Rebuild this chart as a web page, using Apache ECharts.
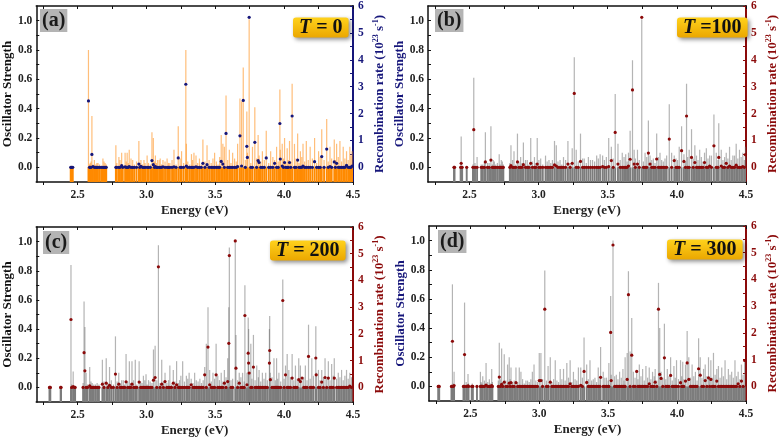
<!DOCTYPE html>
<html><head><meta charset="utf-8">
<script src="https://cdn.jsdelivr.net/npm/echarts@6/dist/echarts.min.js"></script>
<style>html,body{margin:0;padding:0;background:#fff}#c{width:780px;height:438px}</style>
</head><body><div id="c"></div>
<script>
// ---- Data: [energy (eV), oscillator strength, recombination rate (1e23 s^-1)] ----
const linesA = [
[2.450,0.005,0],[2.465,0.005,0],[2.579,0.80,2.47],[2.592,0.03,0],[2.604,0.35,0.48],[2.612,0.02,0.03],[2.622,0.05,0],[2.640,0.03,0],[2.660,0.02,0],[2.684,0.06,0],[2.700,0.03,0],
[2.778,0.15,0],[2.800,0.07,0],[2.820,0.10,0.06],[2.845,0.10,0.02],[2.860,0.10,0],[2.875,0.12,0.03],[2.900,0.05,0],[2.945,0.18,0.12],[2.960,0.05,0.04],[2.990,0.03,0],[3.005,0.08,0],
[3.040,0.24,0.25],[3.050,0.20,0.10],[3.065,0.08,0.03],[3.080,0.05,0],[3.100,0.06,0],[3.120,0.05,0.02],[3.150,0.06,0],[3.170,0.03,0],[3.200,0.12,0.02],[3.231,0.28,0.35],[3.255,0.11,0],
[3.286,0.80,3.09],[3.290,0.16,0.05],[3.327,0.09,0],[3.345,0.10,0],[3.360,0.08,0.02],[3.410,0.19,0.15],[3.440,0.15,0.10],[3.495,0.10,0],[3.543,0.22,0.22],[3.555,0.16,0.12],[3.566,0.14,0],
[3.578,0.49,1.26],[3.602,0.12,0],[3.626,0.10,0],[3.662,0.16,0.03],[3.679,0.47,1.17],[3.691,0.45,0.05],[3.703,0.68,2.49],[3.729,0.38,0.78],[3.733,0.10,0.37],[3.746,1.01,5.58],[3.770,0.14,0],
[3.787,0.41,0.93],[3.811,0.22,0.25],[3.818,0.08,0.18],[3.842,0.11,0],[3.870,0.25,0.35],[3.902,0.11,0],[3.931,0.05,0.15],[3.945,0.14,0],[3.969,0.53,1.63],[3.972,0.12,0.31],[3.986,0.16,0.05],
[4.003,0.20,0.18],[4.022,0.13,0],[4.039,0.18,0.18],[4.058,0.57,1.91],[4.075,0.16,0],[4.098,0.23,0.27],[4.118,0.11,0],[4.137,0.16,0.05],[4.161,0.18,0],[4.189,0.14,0],[4.221,0.20,0.21],
[4.250,0.11,0],[4.273,0.26,0.40],[4.309,0.33,0.68],[4.333,0.14,0.03],[4.364,0.19,0.20],[4.381,0.16,0.15],[4.405,0.18,0],[4.429,0.14,0],[4.453,0.11,0.07],[4.477,0.14,0],[4.493,0.11,0.05]
];
const linesB = [
[2.392,0.005,0],[2.440,0.21,0.15],[2.447,0.01,0],[2.480,0.005,0],[2.531,0.61,1.40],[2.555,0.07,0],[2.585,0.02,0],[2.615,0.24,0.20],[2.630,0.03,0],[2.655,0.28,0.27],[2.672,0.05,0],
[2.690,0.02,0],[2.715,0.09,0],[2.730,0.05,0],[2.745,0.02,0],[2.800,0.15,0.06],[2.822,0.11,0],[2.847,0.23,0.20],[2.870,0.07,0],[2.890,0.17,0.10],[2.918,0.05,0],[2.943,0.20,0.15],
[2.970,0.07,0],[2.990,0.20,0.12],[3.015,0.06,0],[3.050,0.08,0],[3.075,0.05,0],[3.115,0.18,0.09],[3.128,0.15,0.05],[3.155,0.05,0],[3.180,0.07,0],[3.212,0.18,0.12],[3.243,0.13,0.15],
[3.258,0.75,2.75],[3.272,0.12,0],[3.303,0.23,0.22],[3.330,0.06,0],[3.360,0.07,0],[3.390,0.05,0],[3.420,0.08,0],[3.445,0.09,0],[3.463,0.08,0.03],[3.490,0.07,0],[3.507,0.20,0.03],
[3.526,0.14,0.25],[3.554,0.50,1.30],[3.574,0.16,0.12],[3.605,0.10,0],[3.630,0.09,0],[3.650,0.10,0.05],[3.662,0.25,0.30],[3.679,0.73,2.88],[3.691,0.12,0.12],[3.715,0.12,0.12],
[3.746,1.01,5.58],[3.770,0.10,0],[3.794,0.32,0.53],[3.806,0.08,0.12],[3.854,0.23,0.31],[3.878,0.10,0],[3.914,0.06,0],[3.945,0.43,1.05],[3.962,0.10,0],[3.981,0.08,0.25],[4.017,0.14,0],
[4.034,0.28,0.62],[4.051,0.09,0.22],[4.070,0.57,1.91],[4.089,0.12,0],[4.106,0.26,0.37],[4.130,0.15,0.18],[4.165,0.12,0],[4.200,0.10,0.18],[4.213,0.13,0],[4.237,0.08,0.05],
[4.268,0.36,0.80],[4.285,0.10,0],[4.303,0.30,0.37],[4.321,0.12,0.05],[4.333,0.05,0],[4.357,0.10,0.15],[4.381,0.14,0.05],[4.405,0.08,0],[4.429,0.16,0.08],[4.453,0.12,0],[4.477,0.10,0.03],[4.496,0.14,0.47]
];
const linesC = [
[2.296,0.005,0],[2.302,0.005,0],[2.380,0.005,0],[2.452,0.84,2.54],[2.468,0.11,0.03],[2.482,0.005,0],[2.547,0.59,1.30],[2.553,0.415,0.62],[2.562,0.10,0],[2.588,0.14,0.06],[2.606,0.03,0],
[2.630,0.02,0],[2.680,0.19,0.12],[2.708,0.20,0.16],[2.732,0.14,0.08],[2.775,0.35,0.50],[2.799,0.10,0.12],[2.820,0.05,0],[2.852,0.23,0.21],[2.876,0.18,0],[2.895,0.18,0.12],[2.919,0.19,0],
[2.947,0.18,0.20],[2.978,0.08,0],[2.997,0.09,0],[3.015,0.05,0],[3.051,0.26,0.27],[3.063,0.285,0.37],[3.087,0.975,4.51],[3.111,0.19,0.12],[3.135,0.10,0.22],[3.170,0.15,0],
[3.195,0.12,0.16],[3.219,0.18,0.10],[3.250,0.08,0],[3.263,0.18,0],[3.290,0.08,0],[3.310,0.10,0],[3.325,0.06,0.10],[3.350,0.10,0],[3.423,0.14,0.47],[3.435,0.30,0],[3.447,0.55,1.51],
[3.459,0.12,0.10],[3.483,0.10,0],[3.506,0.30,0.47],[3.518,0.08,0],[3.543,0.10,0],[3.566,0.12,0.16],[3.590,0.20,0.22],[3.598,0.55,1.65],[3.602,0.96,4.93],[3.645,1.01,5.48],[3.650,0.36,0.72],
[3.674,0.10,0.16],[3.698,0.10,0],[3.715,0.70,2.69],[3.730,0.10,0.10],[3.739,0.48,1.28],[3.742,0.40,0.91],[3.746,0.10,0.54],[3.758,0.30,0],[3.777,0.36,0.76],[3.801,0.15,0],[3.818,0.12,0],
[3.842,0.10,0],[3.866,0.10,0],[3.893,0.40,0.91],[3.895,0.49,1.38],[3.900,0.10,0.29],[3.926,0.20,0],[3.945,0.20,0],[3.962,0.10,0],[3.990,0.74,3.25],[4.010,0.15,0.47],[4.022,0.23,0],
[4.034,0.12,0],[4.058,0.23,0.35],[4.082,0.15,0],[4.106,0.20,0.29],[4.118,0.15,0.22],[4.130,0.05,0.35],[4.154,0.15,0],[4.177,0.43,1.16],[4.201,0.20,0],[4.230,0.42,1.10],[4.233,0.10,0.47],
[4.249,0.12,0],[4.273,0.12,0.20],[4.297,0.20,0.37],[4.321,0.18,0.35],[4.345,0.16,0],[4.364,0.20,0.35],[4.393,0.10,0],[4.417,0.12,0],[4.453,0.12,0],[4.477,0.10,0.05]
];
const linesD = [
[2.267,0.005,0],[2.274,0.005,0],[2.363,0.005,0],[2.370,0.70,1.69],[2.382,0.10,0.03],[2.450,0.005,0],[2.458,0.575,1.19],[2.470,0.03,0],[2.483,0.085,0.02],[2.514,0.02,0],[2.548,0.01,0],
[2.573,0.10,0],[2.590,0.07,0],[2.614,0.16,0.05],[2.638,0.05,0],[2.655,0.12,0.03],[2.710,0.30,0.35],[2.727,0.26,0.08],[2.746,0.22,0.16],[2.770,0.15,0],[2.782,0.20,0.12],[2.795,0.13,0.14],
[2.831,0.13,0.14],[2.855,0.13,0],[2.867,0.10,0],[2.903,0.04,0],[2.950,0.10,0],[2.962,0.15,0],[3.000,0.23,0.22],[3.012,0.23,0.22],[3.040,0.795,2.89],[3.064,0.14,0],[3.080,0.20,0.16],
[3.116,0.18,0],[3.152,0.12,0],[3.176,0.12,0],[3.200,0.16,0],[3.224,0.18,0.10],[3.248,0.10,0],[3.284,0.13,0],[3.301,0.13,0.04],[3.325,0.335,0.56],[3.344,0.15,0.15],[3.368,0.18,0],
[3.392,0.05,0],[3.428,0.13,0],[3.445,0.27,0.34],[3.464,0.10,0],[3.488,0.06,0],[3.505,0.16,0],[3.518,0.62,2.02],[3.522,0.08,0.22],[3.535,1.00,5.29],[3.559,0.08,0],[3.583,0.10,0],
[3.607,0.12,0],[3.623,0.20,0],[3.638,0.23,0.26],[3.647,0.79,3.43],[3.659,0.24,0],[3.671,0.47,1.17],[3.683,0.10,0],[3.707,0.10,0.56],[3.726,0.15,0],[3.750,0.12,0],[3.774,0.14,0],
[3.798,0.13,0.10],[3.822,0.10,0],[3.841,0.12,0.16],[3.865,0.71,2.89],[3.874,0.40,0.45],[3.884,0.10,0.30],[3.908,0.43,1.07],[3.929,0.12,0],[3.953,0.20,0.41],[3.977,0.14,0],[3.996,0.18,0],
[4.025,0.18,0.14],[4.041,0.17,0],[4.061,0.15,0.20],[4.073,0.38,0.88],[4.085,0.20,0.26],[4.109,0.15,0],[4.133,0.10,0],[4.156,0.33,0.66],[4.168,0.20,0.42],[4.192,0.12,0],[4.204,0.15,0.22],
[4.228,0.20,0.32],[4.245,0.18,0.26],[4.264,0.23,0],[4.288,0.12,0.20],[4.300,0.14,0],[4.324,0.13,0],[4.348,0.18,0],[4.372,0.12,0],[4.396,0.10,0],[4.420,0.18,0],[4.443,0.10,0.10],[4.467,0.15,0.20],[4.490,0.17,0.97]
];
// weak transitions: [energy, oscillator strength]; their recombination rate reads as 0
const weakA = [[2.457,0.01],[2.587,0.02],[2.598,0.04],[2.632,0.02],[2.648,0.03],[2.672,0.01],[2.692,0.04],[2.708,0.02],[2.785,0.03],[2.808,0.05],[2.828,0.02],[2.853,0.04],[2.868,0.03],[2.888,0.06],[2.912,0.02],[2.928,0.04],[2.952,0.03],[2.972,0.02],[2.982,0.05],[3.015,0.03],[3.028,0.02],[3.058,0.04],[3.072,0.03],[3.092,0.05],[3.110,0.02],[3.135,0.04],[3.160,0.03],[3.186,0.05],[3.215,0.02],[3.245,0.06],[3.270,0.03],[3.300,0.04],[3.315,0.02],[3.335,0.05],[3.372,0.03],[3.385,0.06],[3.398,0.02],[3.425,0.04],[3.455,0.05],[3.470,0.03],[3.483,0.06],[3.508,0.04],[3.520,0.02],[3.532,0.07],[3.590,0.05],[3.614,0.03],[3.640,0.06],[3.652,0.04],[3.718,0.05],[3.758,0.03],[3.800,0.06],[3.830,0.04],[3.856,0.05],[3.888,0.03],[3.918,0.07],[3.957,0.04],[3.995,0.06],[4.012,0.03],[4.030,0.05],[4.048,0.04],[4.086,0.06],[4.108,0.03],[4.128,0.07],[4.149,0.04],[4.175,0.05],[4.205,0.06],[4.236,0.03],[4.262,0.07],[4.290,0.05],[4.320,0.04],[4.345,0.06],[4.372,0.05],[4.393,0.07],[4.417,0.04],[4.441,0.06],[4.465,0.05],[4.485,0.08]];
const weakB = [[2.388,0.01],[2.436,0.01],[2.525,0.02],[2.540,0.03],[2.596,0.02],[2.608,0.04],[2.642,0.03],[2.665,0.02],[2.680,0.04],[2.702,0.03],[2.722,0.02],[2.738,0.04],[2.792,0.03],[2.812,0.05],[2.835,0.02],[2.858,0.04],[2.880,0.03],[2.905,0.05],[2.930,0.02],[2.955,0.04],[2.980,0.03],[3.002,0.05],[3.030,0.02],[3.062,0.04],[3.088,0.03],[3.100,0.05],[3.140,0.04],[3.168,0.02],[3.195,0.05],[3.228,0.03],[3.287,0.04],[3.318,0.06],[3.345,0.03],[3.375,0.05],[3.405,0.04],[3.432,0.06],[3.476,0.05],[3.540,0.06],[3.590,0.05],[3.618,0.07],[3.640,0.04],[3.700,0.06],[3.728,0.05],[3.758,0.04],[3.782,0.07],[3.818,0.05],[3.830,0.06],[3.842,0.03],[3.866,0.07],[3.890,0.05],[3.902,0.04],[3.926,0.08],[3.994,0.06],[4.005,0.05],[4.062,0.04],[4.078,0.07],[4.118,0.06],[4.142,0.08],[4.153,0.05],[4.177,0.07],[4.189,0.04],[4.225,0.06],[4.250,0.08],[4.297,0.05],[4.345,0.07],[4.369,0.06],[4.393,0.05],[4.417,0.08],[4.441,0.06],[4.465,0.07],[4.488,0.05]];
const weakC = [[2.299,0.01],[2.377,0.01],[2.457,0.02],[2.478,0.01],[2.540,0.03],[2.572,0.02],[2.597,0.04],[2.618,0.02],[2.642,0.03],[2.655,0.02],[2.692,0.04],[2.720,0.03],[2.745,0.05],[2.760,0.02],[2.787,0.04],[2.810,0.03],[2.832,0.05],[2.842,0.02],[2.864,0.04],[2.886,0.03],[2.907,0.05],[2.930,0.02],[2.958,0.04],[2.968,0.03],[2.988,0.05],[3.005,0.02],[3.027,0.04],[3.040,0.03],[3.075,0.05],[3.099,0.03],[3.123,0.04],[3.148,0.03],[3.160,0.05],[3.182,0.02],[3.207,0.04],[3.232,0.03],[3.240,0.05],[3.276,0.04],[3.300,0.06],[3.338,0.03],[3.362,0.05],[3.375,0.04],[3.388,0.06],[3.400,0.03],[3.412,0.05],[3.471,0.04],[3.495,0.06],[3.530,0.05],[3.555,0.04],[3.578,0.07],[3.614,0.05],[3.626,0.06],[3.662,0.05],[3.686,0.07],[3.710,0.04],[3.766,0.06],[3.789,0.05],[3.813,0.07],[3.830,0.04],[3.854,0.06],[3.878,0.05],[3.912,0.07],[3.936,0.05],[3.953,0.06],[3.975,0.04],[4.000,0.06],[4.046,0.07],[4.070,0.05],[4.094,0.06],[4.142,0.07],[4.166,0.05],[4.189,0.06],[4.213,0.08],[4.261,0.05],[4.285,0.07],[4.309,0.06],[4.333,0.05],[4.357,0.08],[4.381,0.06],[4.405,0.07],[4.429,0.05],[4.441,0.08],[4.465,0.06],[4.489,0.07]];
const weakD = [[2.271,0.01],[2.367,0.01],[2.376,0.02],[2.454,0.01],[2.487,0.02],[2.510,0.01],[2.518,0.01],[2.578,0.03],[2.583,0.02],[2.602,0.04],[2.626,0.03],[2.645,0.02],[2.660,0.03],[2.703,0.04],[2.718,0.05],[2.735,0.03],[2.758,0.04],[2.789,0.05],[2.806,0.03],[2.818,0.04],[2.843,0.03],[2.879,0.05],[2.891,0.02],[2.915,0.04],[2.927,0.03],[2.939,0.05],[2.975,0.04],[2.987,0.03],[3.024,0.05],[3.052,0.04],[3.092,0.03],[3.104,0.05],[3.128,0.04],[3.140,0.03],[3.164,0.05],[3.188,0.04],[3.212,0.06],[3.236,0.03],[3.260,0.05],[3.272,0.04],[3.313,0.06],[3.356,0.05],[3.380,0.04],[3.404,0.06],[3.416,0.03],[3.440,0.05],[3.476,0.06],[3.500,0.04],[3.547,0.07],[3.571,0.05],[3.595,0.06],[3.615,0.04],[3.695,0.06],[3.716,0.05],[3.738,0.07],[3.762,0.04],[3.786,0.06],[3.810,0.05],[3.834,0.07],[3.853,0.04],[3.896,0.06],[3.918,0.05],[3.941,0.07],[3.965,0.04],[3.987,0.06],[4.010,0.05],[4.033,0.07],[4.049,0.05],[4.097,0.06],[4.121,0.07],[4.145,0.04],[4.180,0.06],[4.216,0.07],[4.236,0.05],[4.255,0.06],[4.276,0.08],[4.312,0.06],[4.336,0.07],[4.360,0.05],[4.384,0.08],[4.408,0.06],[4.431,0.07],[4.455,0.05],[4.479,0.08]];

// axis ticks / labels
const energyTicks = [2.25,2.5,2.75,3.0,3.25,3.5,3.75,4.0,4.25,4.5];
const energyLabels = [2.5,3.0,3.5,4.0,4.5];
const osTicks = [0,0.1,0.2,0.3,0.4,0.5,0.6,0.7,0.8,0.9,1.0];
const osLabels = [0,0.2,0.4,0.6,0.8,1.0];
const rateTicks = [0,0.5,1,1.5,2,2.5,3,3.5,4,4.5,5,5.5,6];
const rateLabels = [0,1,2,3,4,5,6];
const panelLabels = ['(a)','(b)','(c)','(d)'];
const tempTexts = ['{i|T} = 0','{i|T} =100','{i|T} = 200','{i|T} = 300'];

const E_MIN = 2.2, E_MAX = 4.5, OS_MIN = -0.1, OS_MAX = 1.1, R_MAX = 6;
const R_MIN = OS_MIN * R_MAX / OS_MAX;
const FONT = '"Liberation Serif","Times New Roman",serif';
const NAVY = '#16167a', DRED = '#8b0a0a';

const panels = [
  {lines:linesA, weak:weakA, grid:{left:33,top:5,width:320,height:177}, low:'#ff8a00', high:'rgba(255,150,40,0.62)', dot:NAVY, right:NAVY, leftName:'#111', lab:{left:40,top:9}, tb:{left:293,top:18}},
  {lines:linesB, weak:weakB, grid:{left:428,top:5,width:320,height:177}, low:'#7c7c7c', high:'rgba(105,105,105,0.5)', dot:DRED, right:DRED, leftName:NAVY, lab:{left:435,top:9}, tb:{left:677,top:18}},
  {lines:linesC, weak:weakC, grid:{left:33,top:227,width:320,height:175}, low:'#7c7c7c', high:'rgba(105,105,105,0.5)', dot:DRED, right:DRED, leftName:'#111', lab:{left:43,top:231}, tb:{left:270,top:241}},
  {lines:linesD, weak:weakD, grid:{left:429,top:226,width:320,height:175}, low:'#7c7c7c', high:'rgba(105,105,105,0.5)', dot:DRED, right:DRED, leftName:NAVY, lab:{left:438,top:230}, tb:{left:667,top:240}}
];

const option = {animation:false, backgroundColor:'#fff', grid:[], xAxis:[], yAxis:[], series:[], title:[]};
const fmt1 = v => Number(v).toFixed(1);

panels.forEach((p, i) => {
  option.grid.push(Object.assign({containLabel:false}, p.grid));
  const axisText = {fontFamily:FONT, fontWeight:'bold', fontSize:11.5, color:'#222'};
  option.xAxis.push({
    gridIndex:i, type:'value', min:E_MIN, max:E_MAX, position:'bottom',
    name:'Energy (eV)', nameLocation:'middle', nameGap:22,
    nameTextStyle:{fontFamily:FONT, fontWeight:'bold', fontSize:13, color:'#222'},
    axisLine:{onZero:false, lineStyle:{color:'#111', width:1.5}},
    axisTick:{show:true, customValues:energyTicks, inside:false, length:3, lineStyle:{color:'#111'}},
    axisLabel:Object.assign({customValues:energyLabels, formatter:fmt1, margin:7}, axisText),
    splitLine:{show:false}
  });
  option.xAxis.push({
    gridIndex:i, type:'value', min:E_MIN, max:E_MAX, position:'top',
    axisLine:{onZero:false, lineStyle:{color:'#111', width:1.5}},
    axisTick:{show:true, customValues:energyTicks, inside:true, length:3, lineStyle:{color:'#111'}},
    axisLabel:{show:false}, splitLine:{show:false}
  });
  option.yAxis.push({
    gridIndex:i, type:'value', min:OS_MIN, max:OS_MAX, position:'left',
    name:'Oscillator Strength', nameLocation:'middle', nameRotate:90, nameGap:20,
    nameTextStyle:{fontFamily:FONT, fontWeight:'bold', fontSize:13, color:p.leftName},
    axisLine:{show:true, onZero:false, lineStyle:{color:'#111', width:1.5}},
    axisTick:{show:true, customValues:osTicks, inside:true, length:3, lineStyle:{color:'#111'}},
    axisLabel:Object.assign({customValues:osLabels, formatter:fmt1, margin:4}, axisText),
    splitLine:{show:false}
  });
  option.yAxis.push({
    gridIndex:i, type:'value', min:R_MIN, max:R_MAX, position:'right',
    name:'{a|Recombination rate (10}{s|23}{a| s}{s|-1}{a|)}', nameLocation:'middle', nameRotate:90, nameGap:19,
    nameTextStyle:{color:p.right, rich:{
      a:{fontFamily:FONT, fontWeight:'bold', fontSize:13, color:p.right},
      s:{fontFamily:FONT, fontWeight:'bold', fontSize:8, color:p.right, padding:[0,0,7,0]}
    }},
    axisLine:{show:true, onZero:false, lineStyle:{color:p.right, width:2}},
    axisTick:{show:true, customValues:rateTicks, inside:true, length:3, lineStyle:{color:p.right}},
    axisLabel:Object.assign({customValues:rateLabels, margin:5}, axisText, {color:p.right}),
    splitLine:{show:false}
  });
  const sticks = p.lines.map(d => [d[0], d[1]]).concat(p.weak.map(w => [w[0], w[1]]));
  const rates = p.lines.map(d => [d[0], d[2]]).concat(p.weak.map(w => [w[0], 0]));
  const low = p.low, high = p.high;
  option.series.push({
    type:'custom', xAxisIndex:2*i, yAxisIndex:2*i, data:sticks, clip:true, silent:true, z:2,
    encode:{x:0, y:1},
    renderItem:(params, api) => {
      const e = api.value(0), f = api.value(1);
      const b = api.coord([e, OS_MIN]), z = api.coord([e, 0]), t = api.coord([e, f]);
      return {type:'group', children:[
        {type:'line', shape:{x1:b[0], y1:b[1], x2:z[0], y2:z[1]}, style:{stroke:low, lineWidth:1.9}},
        {type:'line', shape:{x1:z[0], y1:z[1], x2:t[0], y2:t[1]}, style:{stroke:high, lineWidth:1.2}}
      ]};
    }
  });
  option.series.push({
    type:'scatter', xAxisIndex:2*i, yAxisIndex:2*i+1, data:rates, symbol:'circle', symbolSize:3.2,
    itemStyle:{color:p.dot, opacity:1}, silent:true, z:3
  });
  option.title.push({
    text:panelLabels[i], left:p.lab.left, top:p.lab.top, padding:[0,2,0,2],
    backgroundColor:'#b4b4b4',
    textStyle:{fontFamily:FONT, fontWeight:'bold', fontSize:20, color:'#1a1a1a', lineHeight:23}
  });
  option.title.push({
    text:tempTexts[i], left:p.tb.left, top:p.tb.top, padding:[0,6,0,6], borderRadius:3,
    backgroundColor:{type:'linear', x:0, y:0, x2:0, y2:1, colorStops:[{offset:0, color:'#ffd21c'}, {offset:1, color:'#eba700'}]},
    shadowBlur:4, shadowColor:'rgba(0,0,0,0.45)', shadowOffsetX:2, shadowOffsetY:2,
    textStyle:{fontFamily:FONT, fontWeight:'bold', fontSize:20, color:'#111', lineHeight:19,
      rich:{i:{fontFamily:FONT, fontWeight:'bold', fontStyle:'italic', fontSize:20, color:'#111', lineHeight:19}}}
  });
});

const chart = echarts.init(document.getElementById('c'), null, {renderer:'canvas'});
chart.setOption(option);
</script></body></html>
